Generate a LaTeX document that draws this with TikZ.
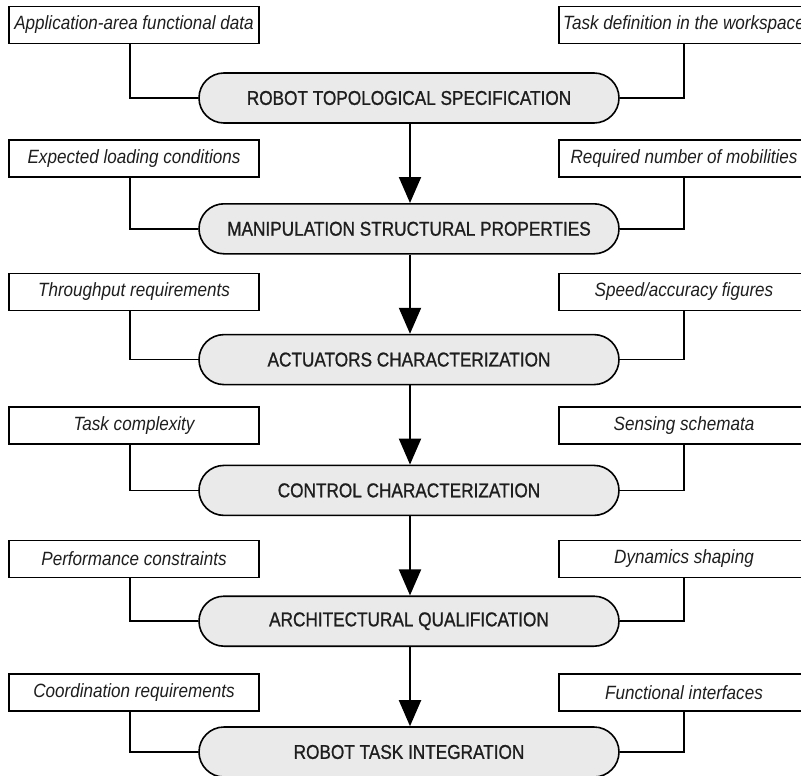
\documentclass[tikz,border=0pt]{standalone}
\usepackage{fontspec}
\setmainfont{Liberation Sans}
\newfontfamily\stagefont[FakeStretch=0.86,FakeBold=1.0]{Liberation Sans}
\newfontfamily\inputfont[FakeStretch=0.89]{Liberation Sans}
\usetikzlibrary{arrows.meta}
\definecolor{stagegray}{RGB}{234,234,234}
\definecolor{inkgray}{RGB}{30,30,30}
\begin{document}
\begin{tikzpicture}[x=1pt,y=-1pt,
  stage/.style={draw=black, line width=1.6pt, fill=stagegray, rounded corners=25pt,
    minimum width=420pt, minimum height=50pt, inner sep=0pt, text=inkgray,
    font=\stagefont\fontsize{20pt}{22pt}\selectfont},
  input/.style={draw=black, line width=1.6pt, fill=white,
    minimum width=250pt, minimum height=37pt, inner sep=0pt, text=inkgray,
    font=\inputfont\fontsize{19.2pt}{21pt}\selectfont\itshape},
  link/.style={line width=1.6pt},
  flow/.style={line width=2pt, -{Triangle[width=22pt,length=26pt]}}
]
\useasboundingbox (0,0) rectangle (801,776);
\clip (0,0) rectangle (801,776);

% design stages
\node[stage] (P1) at (409,98)    {ROBOT TOPOLOGICAL SPECIFICATION};
\node[stage] (P2) at (409,228.8) {MANIPULATION STRUCTURAL PROPERTIES};
\node[stage] (P3) at (409,359.6) {ACTUATORS CHARACTERIZATION};
\node[stage] (P4) at (409,490.4) {CONTROL CHARACTERIZATION};
\node[stage] (P5) at (409,621.2) {ARCHITECTURAL QUALIFICATION};
\node[stage] (P6) at (409,752)   {ROBOT TASK INTEGRATION};

% inputs on the left
\node[input] (L1) at (134,25)    {Application-area functional data};
\node[input] (L2) at (134,158.5) {Expected loading conditions};
\node[input] (L3) at (134,292)   {Throughput requirements};
\node[input] (L4) at (134,425.5) {Task complexity};
\node[input] (L5) at (134,559)   {Performance constraints};
\node[input] (L6) at (134,692.5) {Coordination requirements};

% inputs on the right
\node[input] (R1) at (684,25)    {Task definition in the workspace};
\node[input] (R2) at (684,158.5) {Required number of mobilities};
\node[input] (R3) at (684,292)   {Speed/accuracy figures};
\node[input] (R4) at (684,425.5) {Sensing schemata};
\node[input] (R5) at (684,559)   {Dynamics shaping};
\node[input] (R6) at (684,692.5) {Functional interfaces};

% side links into each stage
\foreach \i in {1,...,6}{
  \draw[link] ([xshift=-4pt]L\i.south) |- (P\i.west);
  \draw[link] (R\i.south) |- (P\i.east);
}

% main flow
\foreach \i/\j in {1/2,2/3,3/4,4/5,5/6}{
  \draw[flow] ([xshift=1pt]P\i.south) -- ([xshift=1pt]P\j.north);
}
\end{tikzpicture}
\end{document}
